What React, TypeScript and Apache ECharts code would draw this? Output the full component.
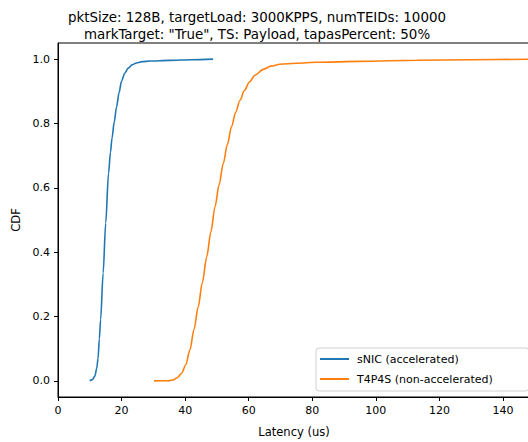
import React, { useEffect, useRef } from "react";
import * as echarts from "echarts";

const titleLines = [
  "pktSize: 128B, targetLoad: 3000KPPS, numTEIDs: 10000",
  'markTarget: "True", TS: Payload, tapasPercent: 50%',
];
const xTicks = [0, 20, 40, 60, 80, 100, 120, 140];
const yTicks = [0, 0.2, 0.4, 0.6, 0.8, 1.0];
const seriesNames = ["sNIC (accelerated)", "T4P4S (non-accelerated)"];

const snicLatency = [10.0, 10.8, 11.6, 12.2, 12.6, 13.0, 13.4, 14.2, 15.0, 15.9, 16.5, 17.0, 17.7, 18.4, 19.2, 20.0, 21.0, 22.1, 23.3, 24.7, 26.5, 28.9, 35, 42, 48.8];
const snicCdf = [0.0, 0.004, 0.015, 0.04, 0.07, 0.13, 0.19, 0.335, 0.49, 0.645, 0.71, 0.755, 0.805, 0.85, 0.895, 0.932, 0.956, 0.972, 0.982, 0.988, 0.992, 0.994, 0.996, 0.998, 1.0];

const t4p4sLatency = [30.2, 33, 35, 36.2, 37.5, 38.9, 40.2, 41.5, 42.8, 44.1, 45.4, 46.8, 48.1, 49.4, 50.7, 52.0, 53.3, 54.6, 55.9, 57.25, 58.7, 60.2, 62.0, 64.6, 67, 69.8, 75, 81.4, 95, 112.9, 130, 150];
const t4p4sCdf = [0.0, 0.0003, 0.001, 0.003, 0.01, 0.024, 0.05, 0.096, 0.16, 0.23, 0.305, 0.386, 0.463, 0.541, 0.61, 0.676, 0.735, 0.79, 0.835, 0.872, 0.903, 0.929, 0.95, 0.968, 0.978, 0.984, 0.987, 0.99, 0.993, 0.9966, 0.998, 1.0];

const FONT = "DejaVu Sans";

export default function App() {
  const ref = useRef<HTMLDivElement>(null);
  useEffect(() => {
    const chart = echarts.init(ref.current!, null, { renderer: "svg" });
    const zip = (xs: number[], ys: number[]) => xs.map((x, i) => [x, ys[i]]);
    chart.setOption({
      animation: false,
      textStyle: { fontFamily: FONT },
      title: {
        text: titleLines.join("\n"),
        left: 252,
        textAlign: "center",
        top: 4,
        textStyle: { fontFamily: FONT, fontSize: 13.4, lineHeight: 17, fontWeight: "normal", color: "#000" },
      },
      grid: {
        left: 58, right: -2, top: 43, bottom: 45,
        outerBoundsMode: "none",
        containLabel: false,
        show: true, borderColor: "#000", borderWidth: 1, backgroundColor: "transparent",
      },
      legend: {
        left: 316,
        top: 348,
        orient: "vertical",
        data: seriesNames,
        icon: "rect",
        itemWidth: 29,
        itemHeight: 2,
        itemGap: 6,
        padding: [4, 36, 5, 4],
        backgroundColor: "#fff",
        borderColor: "#d0d0d0",
        borderWidth: 1,
        borderRadius: 3,
        textStyle: { fontFamily: FONT, fontSize: 11, lineHeight: 14, color: "#000", padding: [0, 0, 0, 3] },
      },
      xAxis: {
        type: "value",
        min: 0,
        max: 148.5,
        name: "Latency (us)",
        nameLocation: "middle",
        nameGap: 29,
        nameTextStyle: { fontFamily: FONT, fontSize: 11.5, color: "#000" },
        axisLine: { show: true, onZero: false, lineStyle: { color: "#000", width: 1 } },
        axisTick: { show: true, length: 4, lineStyle: { color: "#000" }, customValues: xTicks },
        axisLabel: { color: "#000", fontSize: 11, margin: 8, customValues: xTicks, formatter: (v: number) => String(v) },
        splitLine: { show: false },
      },
      yAxis: {
        type: "value",
        min: -0.05,
        max: 1.05,
        name: "CDF",
        nameLocation: "middle",
        nameGap: 34,
        nameRotate: 90,
        nameTextStyle: { fontFamily: FONT, fontSize: 11.5, color: "#000" },
        axisLine: { show: true, onZero: false, lineStyle: { color: "#000", width: 1 } },
        axisTick: { show: true, length: 4, lineStyle: { color: "#000" }, customValues: yTicks },
        axisLabel: { color: "#000", fontSize: 11, margin: 8, customValues: yTicks, formatter: (v: number) => v.toFixed(1) },
        splitLine: { show: false },
      },
      series: [
        {
          name: seriesNames[0],
          type: "line",
          data: zip(snicLatency, snicCdf),
          showSymbol: false,
          smooth: 0.3,
          smoothMonotone: "x",
          lineStyle: { color: "#1f77b4", width: 1.6 },
          itemStyle: { color: "#1f77b4" },
        },
        {
          name: seriesNames[1],
          type: "line",
          data: zip(t4p4sLatency, t4p4sCdf),
          showSymbol: false,
          smooth: 0.3,
          smoothMonotone: "x",
          lineStyle: { color: "#ff7f0e", width: 1.6 },
          itemStyle: { color: "#ff7f0e" },
        },
      ],
    });
    return () => chart.dispose();
  }, []);
  return <div ref={ref} style={{ width: 528, height: 442, position: "absolute", left: 0, top: 0 }} />;
}
